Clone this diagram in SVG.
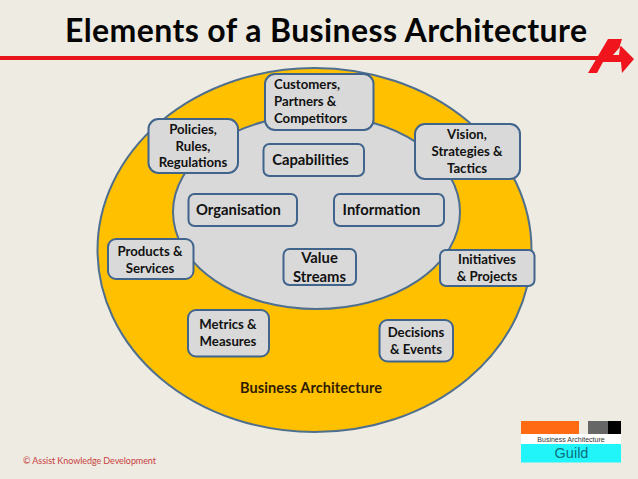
<svg xmlns="http://www.w3.org/2000/svg" width="638" height="479" viewBox="0 0 638 479">
<style>
text{font-family:Lato,"Liberation Sans",sans-serif;fill:#111;text-anchor:middle;font-weight:700}
.n{fill:#d9d9d9;stroke:#41648c;stroke-width:2}
.s{font-size:13.2px}
.m{font-size:14.800px}
</style>
<rect width="638" height="479" fill="#eeebe2"/>
<text x="65" y="42" font-size="32" textLength="522" lengthAdjust="spacing" style="fill:#050505;text-anchor:start">Elements of a Business Architecture</text>
<g id="logo-arrow">
<rect x="0" y="56" width="600" height="4" fill="#e8141c"/>
<path fill-rule="evenodd" d="M608 39H622L619.500 47L621 46L634 59L622 73L621 62H603L597 73H588ZM613 55H619L620 47Z" fill="#f0141c"/>
</g>
<g id="outer-ellipse"><ellipse cx="314.500" cy="250" rx="217" ry="182" fill="#ffc000" stroke="#4f6f8f" stroke-width="2"/></g>
<g id="inner-ellipse"><ellipse cx="316.500" cy="212" rx="143.500" ry="97" fill="#d9d9d9" stroke="#4f6f8f" stroke-width="2"/></g>
<g id="connectors"></g>
<g id="customers"><rect class="n" x="265" y="74" width="108.500" height="56" rx="10"/><text class="s" x="274" y="89" style="text-anchor:start">Customers,</text><text class="s" x="274" y="106" style="text-anchor:start">Partners &amp;</text><text class="s" x="274" y="123" style="text-anchor:start">Competitors</text></g>
<g id="policies"><rect class="n" x="148.500" y="119" width="89.500" height="54" rx="10"/><text class="s" x="193" y="134">Policies,</text><text class="s" x="193" y="151">Rules,</text><text class="s" x="193" y="167">Regulations</text></g>
<g id="vision"><rect class="n" x="415" y="124" width="105" height="55" rx="10"/><text class="s" x="467" y="139">Vision,</text><text class="s" x="467" y="156">Strategies &amp;</text><text class="s" x="467" y="173">Tactics</text></g>
<g id="capabilities"><rect class="n" x="263.500" y="144" width="100.500" height="32" rx="6"/><text class="m" x="310.500" y="165">Capabilities</text></g>
<g id="organisation"><rect class="n" x="188.500" y="194" width="108.500" height="32" rx="6"/><text class="m" x="238.500" y="215">Organisation</text></g>
<g id="information"><rect class="n" x="334" y="194" width="110" height="32" rx="6"/><text class="m" x="381.500" y="215">Information</text></g>
<g id="products"><rect class="n" x="108" y="239" width="85.500" height="40" rx="8"/><text class="s" x="150" y="256">Products &amp;</text><text class="s" x="150" y="273">Services</text></g>
<g id="value"><rect class="n" x="283.500" y="249" width="72.500" height="36" rx="6"/><text class="m" x="319.500" y="263">Value</text><text class="m" x="319.500" y="282">Streams</text></g>
<g id="initiatives"><rect class="n" x="440" y="250" width="94.500" height="36" rx="6"/><text class="s" x="487" y="264">Initiatives</text><text class="s" x="487" y="281">&amp; Projects</text></g>
<g id="metrics"><rect class="n" x="188" y="310" width="81" height="46.500" rx="8"/><text class="s" x="228" y="329">Metrics &amp;</text><text class="s" x="228" y="346">Measures</text></g>
<g id="decisions"><rect class="n" x="379.500" y="320" width="73.500" height="41.500" rx="8"/><text class="s" x="416" y="337">Decisions</text><text class="s" x="416" y="354">&amp; Events</text></g>
<text x="311" y="392.500" font-size="14.500" textLength="142" style="fill:#2e1c00">Business Architecture</text>
<text x="23" y="463.500" font-size="9" textLength="133" style="font-weight:400;fill:#c8403f;text-anchor:start">© Assist Knowledge Development</text>
<g id="guild-logo">
<rect x="521" y="421" width="58" height="13" fill="#ff6a13"/>
<rect x="588" y="421" width="20" height="13" fill="#666"/>
<rect x="608" y="421" width="13" height="13" fill="#000"/>
<rect x="521" y="434" width="100" height="10" fill="#fff"/>
<text x="571" y="442" font-size="7" style="font-weight:400;fill:#333;font-family:'Liberation Sans',sans-serif">Business Architecture</text>
<rect x="521" y="444" width="100" height="18.500" fill="#22f5fa"/>
<text x="571.500" y="458" font-size="14.500" style="font-weight:400;fill:#0a6f7d;font-family:'Liberation Sans',sans-serif">Guild</text>
</g>
</svg>
